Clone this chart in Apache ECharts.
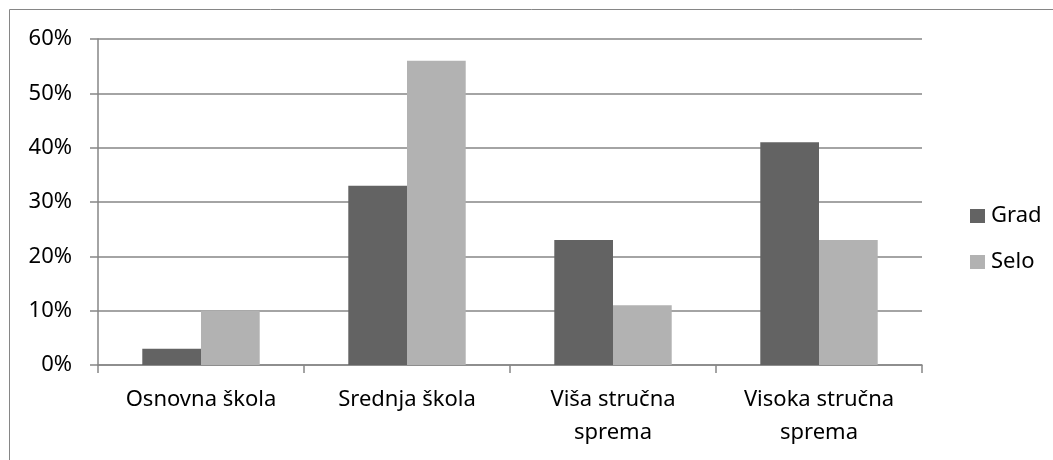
<!DOCTYPE html>
<html>
<head>
<meta charset="utf-8">
<script src="https://cdn.jsdelivr.net/npm/echarts@6/dist/echarts.min.js"></script>
<style>
html,body{margin:0;padding:0;background:#fff;}
#chart{width:1053px;height:460px;}
</style>
</head>
<body>
<div id="chart"></div>
<script>
var categories = ['Osnovna škola', 'Srednja škola', 'Viša stručna\nsprema', 'Visoka stručna\nsprema'];
var gradValues = [3, 33, 23, 41];
var seloValues = [10, 56, 11, 23];
var seriesNames = ['Grad', 'Selo'];
var yTicks = [0, 10, 20, 30, 40, 50, 60];

var FONT = 'Noto Sans';
var chart = echarts.init(document.getElementById('chart'), null, {renderer: 'canvas'});
chart.setOption({
  animation: false,
  backgroundColor: '#fff',
  graphic: [{
    type: 'rect',
    shape: {x: 9.5, y: 9.5, width: 1100, height: 500},
    style: {fill: 'none', stroke: '#868686', lineWidth: 1}
  }],
  grid: {left: 98, right: 131, top: 39, bottom: 95, containLabel: false},
  legend: {
    orient: 'vertical',
    left: 965,
    top: 200,
    itemWidth: 15,
    itemHeight: 14,
    itemGap: 24,
    icon: 'rect',
    data: seriesNames,
    textStyle: {fontFamily: FONT, fontSize: 22, color: '#000', lineHeight: 22, padding: [0,0,0,1]}
  },
  xAxis: {
    type: 'category',
    data: categories,
    boundaryGap: true,
    axisLine: {show: true, lineStyle: {color: '#868686', width: 1.5}},
    axisTick: {show: true, length: 8, alignWithLabel: false, lineStyle: {color: '#868686', width: 1.5}},
    axisLabel: {fontFamily: FONT, fontSize: 22, color: '#000', lineHeight: 33, margin: 18, interval: 0}
  },
  yAxis: {
    type: 'value',
    min: yTicks[0],
    max: yTicks[yTicks.length - 1],
    interval: 10,
    axisLine: {show: true, lineStyle: {color: '#868686', width: 1.5}},
    axisTick: {show: true, length: 8, lineStyle: {color: '#868686', width: 1.5}},
    splitLine: {show: true, lineStyle: {color: '#868686', width: 1.5}},
    axisLabel: {fontFamily: FONT, fontSize: 22, color: '#000', margin: 26, formatter: '{value}%'}
  },
  series: [
    {name: seriesNames[0], type: 'bar', data: gradValues, barGap: '0%', barCategoryGap: '43%',
     itemStyle: {color: '#636363'}},
    {name: seriesNames[1], type: 'bar', data: seloValues, barGap: '0%', barCategoryGap: '43%',
     itemStyle: {color: '#b2b2b2'}}
  ]
});
</script>
</body>
</html>
